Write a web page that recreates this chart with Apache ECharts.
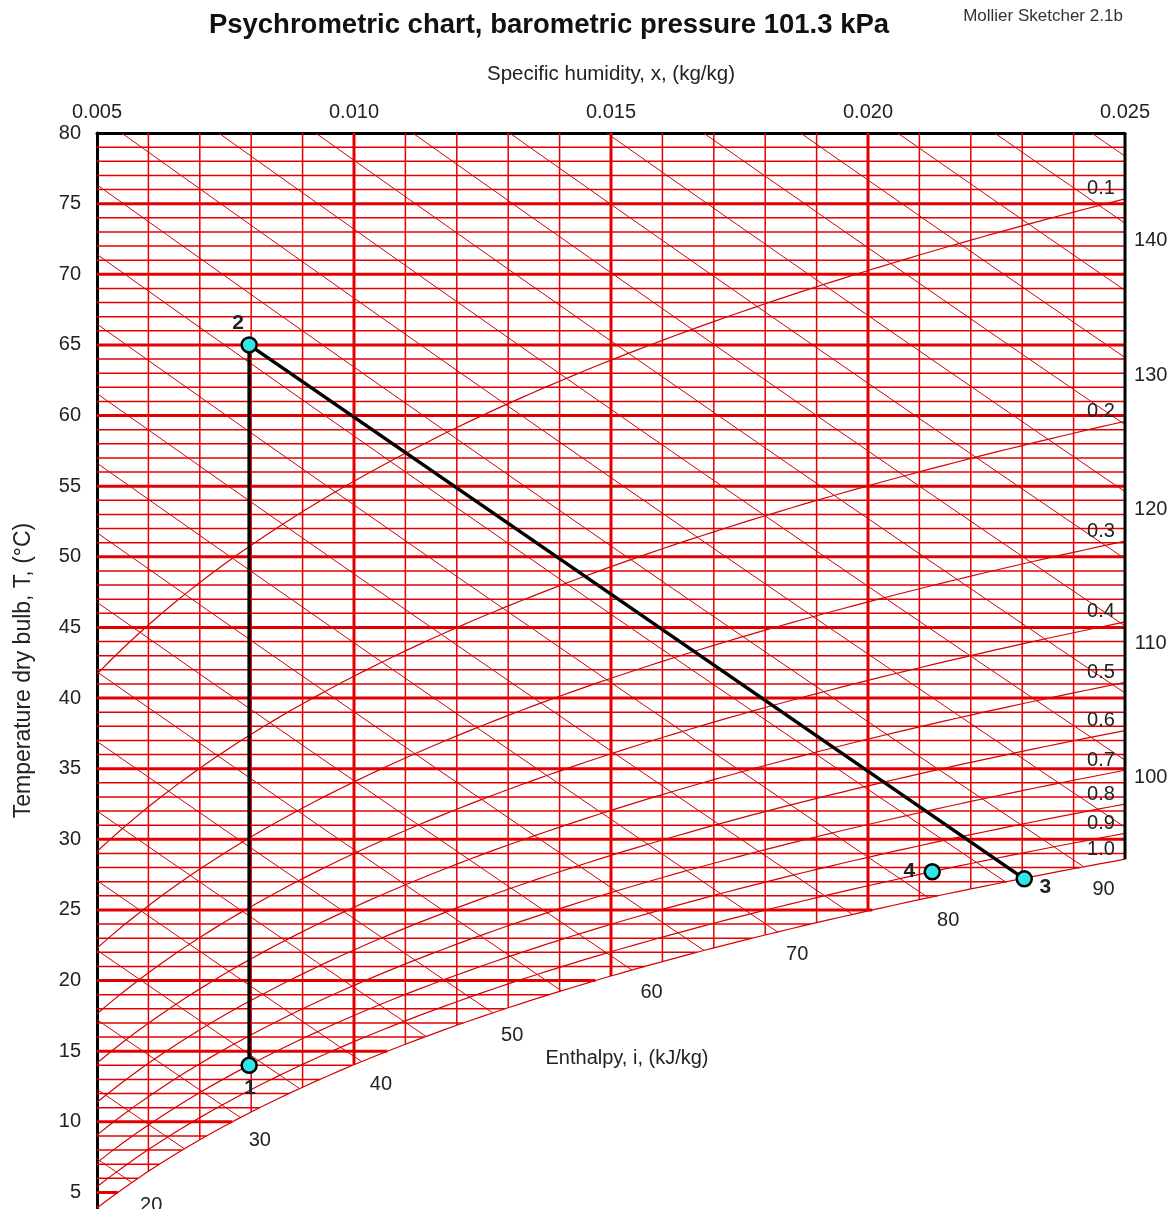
<!DOCTYPE html>
<html>
<head>
<meta charset="utf-8">
<title>Psychrometric chart</title>
<script src="https://cdn.jsdelivr.net/npm/echarts@6/dist/echarts.min.js"></script>
<style>
  html, body { margin: 0; padding: 0; background: #fff; }
  #main { width: 1175px; height: 1209px; }
</style>
</head>
<body>
<div id="main"></div>
<script>
// ---- Chart inputs -------------------------------------------------------
const pressure = 101.3;                       // kPa
const humidityTicks = [0.005, 0.010, 0.015, 0.020, 0.025];
const tempTicks = [5, 10, 15, 20, 25, 30, 35, 40, 45, 50, 55, 60, 65, 70, 75, 80];
const humidityRange = [0.005, 0.025];
const tempMax = 80;
const humidityGridStep = 0.001;               // thin vertical lines
const tempGridStep = 1;                       // thin horizontal lines
const enthalpyLevels = [20, 25, 30, 35, 40, 45, 50, 55, 60, 65, 70, 75, 80, 85, 90,
                        95, 100, 105, 110, 115, 120, 125, 130, 135, 140, 145];
const enthalpyLabelValues = [20, 30, 40, 50, 60, 70, 80, 90, 100, 110, 120, 130, 140];
const rhLevels = [0.1, 0.2, 0.3, 0.4, 0.5, 0.6, 0.7, 0.8, 0.9, 1.0];
const rhLabels = ['0.1', '0.2', '0.3', '0.4', '0.5', '0.6', '0.7', '0.8', '0.9', '1.0'];

// State points of the process
const pointNames = ['1', '2', '3', '4'];
const pointX = [0.00796, 0.00796, 0.02304, 0.02125];
const pointT = [14.0, 65.0, 27.2, 27.7];
const processPath = [0, 1, 2];                // 1 -> 2 -> 3

// ---- Moist-air relations ------------------------------------------------
function psat(T) {                            // kPa, Buck equation
  return 0.61121 * Math.exp((18.678 - T / 234.5) * (T / (257.14 + T)));
}
function tempForVapourPressure(ps) {
  let lo = -30, hi = 120;
  for (let k = 0; k < 80; k++) {
    const mid = (lo + hi) / 2;
    if (psat(mid) < ps) lo = mid; else hi = mid;
  }
  return (lo + hi) / 2;
}
function vapourPressure(x) { return x * pressure / (0.622 + x); }
function rhTemp(x, phi) { return tempForVapourPressure(vapourPressure(x) / phi); }
function satTemp(x) { return rhTemp(x, 1); }
function satHumidity(T) { const p = psat(T); return 0.622 * p / (pressure - p); }
function tempOnEnthalpy(i, x) { return (i - 2501 * x) / (1.006 + 1.86 * x); }

const xMin = humidityRange[0], xMax = humidityRange[1];
const tBottom = satTemp(xMin);

// ---- Grid lines ---------------------------------------------------------
const thinGrid = [], thickGrid = [];
for (let T = Math.ceil(tBottom); T < tempMax; T += tempGridStep) {
  const xe = Math.min(satHumidity(T), xMax);
  if (xe <= xMin) continue;
  const seg = [[xMin, T], [xe, T]];
  (T % 5 === 0 ? thickGrid : thinGrid).push(seg);
}
for (let k = 1; k < Math.round((xMax - xMin) / humidityGridStep); k++) {
  const x = +(xMin + k * humidityGridStep).toFixed(4);
  const seg = [[x, tempMax], [x, satTemp(x)]];
  (Math.abs(x / 0.005 - Math.round(x / 0.005)) < 1e-6 ? thickGrid : thinGrid).push(seg);
}

// Enthalpy lines: from the top or left edge down to saturation / right edge
function enthalpySatHumidity(i) {
  let lo = xMin, hi = 0.1;
  for (let k = 0; k < 80; k++) {
    const mid = (lo + hi) / 2;
    if (tempOnEnthalpy(i, mid) > satTemp(mid)) lo = mid; else hi = mid;
  }
  return (lo + hi) / 2;
}
const enthalpyLines = enthalpyLevels.map(i => {
  const xTop = (i - 1.006 * tempMax) / (2501 + 1.86 * tempMax);
  const xs = Math.max(xMin, xTop);
  const xe = Math.min(xMax, enthalpySatHumidity(i));
  const pts = [];
  const n = 12;
  for (let k = 0; k <= n; k++) {
    const x = xs + (xe - xs) * k / n;
    pts.push([x, tempOnEnthalpy(i, x)]);
  }
  return pts;
});

// Relative humidity curves across the humidity range
const rhLines = rhLevels.map(phi => {
  const pts = [];
  const n = 80;
  for (let k = 0; k <= n; k++) {
    const x = xMin + (xMax - xMin) * k / n;
    const T = rhTemp(x, phi);
    if (T <= tempMax) pts.push([x, T]);
  }
  return pts;
});

// Right edge of the frame, down to saturation
const frameLines = [
  [[xMax, tempMax], [xMax, satTemp(xMax)]]
];

// ---- Label positions ------------------------------------------------------
const labelFont = {
  fontFamily: 'Liberation Sans, Arial, sans-serif', fontSize: 20, color: '#222',
  textBorderWidth: 0, textBorderColor: 'transparent'
};
const xLabelRight = xMax + 0.0005;
const enthalpyLabelData = enthalpyLabelValues.map(i => {
  const tRight = tempOnEnthalpy(i, xLabelRight);
  if (tRight > satTemp(xMax)) {
    return { name: String(i), value: [xLabelRight, tRight], label: { offset: [0, 0] } };
  }
  const xs = enthalpySatHumidity(i);
  const tLab = tempOnEnthalpy(i, xs) - 1.6;
  const xLab = (i - 1.006 * tLab) / (2501 + 1.86 * tLab);
  return { name: String(i), value: [xLab, tLab], label: { offset: [-14, 0] } };
});
const rhLabelData = rhLevels.map((phi, k) => ({
  name: rhLabels[k], value: [xMax, rhTemp(xMax, phi)], label: { offset: [-24, -10] }
}));

const pointOffsets = [[1, 23], [-11, -22], [21, 8], [-23, -1]];
const pointData = pointNames.map((nm, k) => ({
  name: nm, value: [pointX[k], pointT[k]],
  label: { offset: pointOffsets[k] }
}));
const processData = processPath.map(k => [pointX[k], pointT[k]]);

// ---- Chart --------------------------------------------------------------
function linesSeries(lines, color, width, z) {
  return {
    type: 'lines', coordinateSystem: 'cartesian2d', polyline: true, silent: true,
    z: z, animation: false,
    lineStyle: { color: color, width: width, opacity: 1 },
    data: lines.map(c => ({ coords: c }))
  };
}
function labelSeries(data, z) {
  return {
    type: 'scatter', symbolSize: 0, silent: true, clip: false, z: z, animation: false,
    itemStyle: { color: '#222', opacity: 1 },
    label: Object.assign({ show: true, position: 'inside', formatter: '{b}' }, labelFont),
    data: data
  };
}

const chart = echarts.init(document.getElementById('main'));
chart.setOption({
  animation: false,
  backgroundColor: '#fff',
  grid: { left: 97, right: 50, top: 133, bottom: 1 },
  xAxis: {
    type: 'value', position: 'top', min: xMin, max: xMax, interval: 0.005,
    name: 'Specific humidity, x, (kg/kg)', nameLocation: 'middle', nameGap: 48,
    nameTextStyle: Object.assign({}, labelFont, { fontSize: 20.5 }),
    axisLine: { show: true, onZero: false, lineStyle: { color: '#000', width: 3 } },
    axisTick: { show: false },
    splitLine: { show: false },
    axisLabel: Object.assign({ margin: 11, formatter: v => v.toFixed(3) }, labelFont)
  },
  yAxis: {
    type: 'value', min: tBottom, max: tempMax,
    name: 'Temperature dry bulb, T, (°C)', nameLocation: 'middle', nameGap: 62,
    nameRotate: 90,
    nameTextStyle: Object.assign({}, labelFont, { fontSize: 23 }),
    axisLine: { show: true, onZero: false, lineStyle: { color: '#000', width: 3 } },
    axisTick: { show: false },
    splitLine: { show: false },
    axisLabel: Object.assign({ margin: 16, customValues: tempTicks, formatter: v => String(Math.round(v)) }, labelFont)
  },
  graphic: [
    { type: 'text', x: 549, y: 25, z: 10,
      style: { text: 'Psychrometric chart, barometric pressure 101.3 kPa',
               align: 'center', verticalAlign: 'middle',
               font: 'bold 27.5px "Liberation Sans", Arial, sans-serif', fill: '#111' } },
    { type: 'text', x: 1043, y: 16, z: 10,
      style: { text: 'Mollier Sketcher 2.1b', align: 'center', verticalAlign: 'middle',
               font: '17px "Liberation Sans Narrow", "Liberation Sans", Arial, sans-serif', fill: '#333' } },
    { type: 'text', x: 627, y: 1058, z: 10,
      style: { text: 'Enthalpy, i, (kJ/kg)', align: 'center', verticalAlign: 'middle',
               font: '20px "Liberation Sans", Arial, sans-serif', fill: '#222' } }
  ],
  series: [
    linesSeries(thinGrid, '#e40000', 1.5, 1),
    linesSeries(enthalpyLines, '#d80000', 1, 2),
    linesSeries(rhLines, '#d80000', 1.2, 2),
    linesSeries(thickGrid, '#e40000', 3, 3),
    linesSeries(frameLines, '#000', 3, 4),
    labelSeries(enthalpyLabelData, 5),
    labelSeries(rhLabelData, 5),
    {
      type: 'line', data: processData, symbol: 'none', silent: true, z: 6, animation: false,
      lineStyle: { color: '#000', width: 3.5 }
    },
    {
      type: 'scatter', data: pointData, symbol: 'circle', symbolSize: 15, z: 7,
      silent: true, animation: false,
      itemStyle: { color: '#30e6e6', borderColor: '#000', borderWidth: 2.5, opacity: 1 },
      label: Object.assign({ show: true, position: 'inside', formatter: '{b}' }, labelFont,
                           { fontSize: 21, fontWeight: 'bold', color: '#222' })
    }
  ]
});
</script>
</body>
</html>
